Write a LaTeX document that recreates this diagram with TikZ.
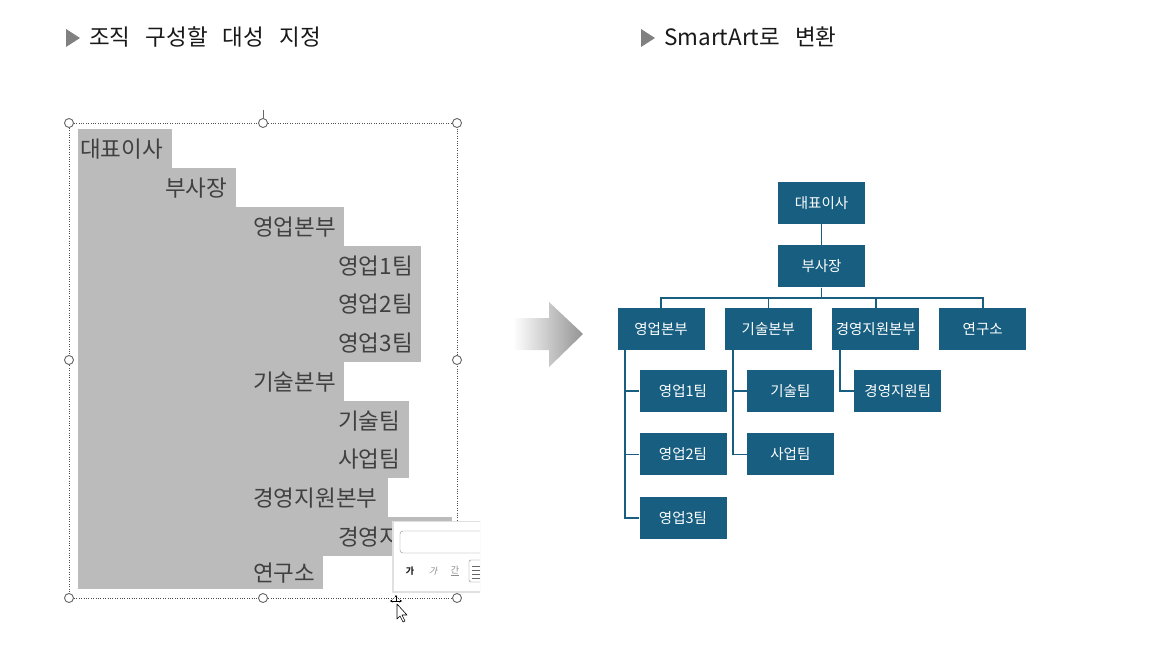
\documentclass[tikz,border=0pt]{standalone}
\usepackage{fontspec}
\setmainfont{Noto Sans CJK KR}
\newfontfamily\slantfont[FakeSlant=0.25]{Noto Sans CJK KR}
\newfontfamily\titlefont[WordSpace=3]{Noto Sans CJK KR}
\usetikzlibrary{positioning,arrows.meta,shadows}
\definecolor{orgblue}{RGB}{23,94,128}
\definecolor{selgray}{RGB}{187,187,187}
\definecolor{listtext}{RGB}{64,64,64}
\definecolor{markgray}{RGB}{128,128,128}

\begin{document}
\begin{tikzpicture}[
    x=1pt, y=-1pt,
    node distance=21pt,
    orgbox/.style={draw=none, fill=orgblue, text=white, minimum width=87pt, minimum height=42pt, inner sep=0pt, font=\fontsize{14.5}{16}\selectfont},
    link/.style={draw=orgblue, line width=1.8pt},
    rowtext/.style={anchor=west, inner sep=0pt, text=listtext, font=\fontsize{22.5}{24}\selectfont},
    title/.style={anchor=west, inner sep=0pt, text=black!90, font=\titlefont\fontsize{22.5}{25}\selectfont},
    handle/.style={draw=black!60, fill=white, line width=0.9pt}
]
  \useasboundingbox (0,0) rectangle (1151,658);

  % Titles
  \fill[markgray] (66,29) -- (80,38) -- (66,47) -- cycle;
  \node[title] (title1) at (89,37) {조직 구성할 대성 지정};
  \fill[markgray] (641,29) -- (655,38) -- (641,47) -- cycle;
  \node[title] (title2) at (664,37) {SmartArt로 변환};

  % Text pane with selected outline text
  \foreach \top/\bot/\right/\xt/\txt [count=\i] in {
      129/168/172/80/대표이사, 168/207/236/165/부사장, 207/246/344/253/영업본부,
      246/284/421/338/영업1팀, 284/323/421/338/영업2팀, 323/362/421/338/영업3팀,
      362/401/344/253/기술본부, 401/439/409/338/기술팀, 439/478/409/338/사업팀,
      478/517/388/253/경영지원본부, 517/556/452/338/경영지원팀, 556/589/323/253/연구소} {
    \fill[selgray] (78,\top) rectangle (\right,\bot);
    \node[rowtext] (row\i) at (\xt,{(\top+\bot)/2+1}) {\txt};
  }

  \draw[dotted, black!70] (69,123) rectangle (457,598);
  \draw[black!60, line width=0.8pt] (263,110) -- (263,118);
  \foreach \hx/\hy in {69/123, 263/123, 457/123, 69/360, 457/360, 69/598, 263/598, 457/598}
    \draw[handle] (\hx,\hy) circle (4.5);

  % Mini toolbar
  \begin{scope}
    \clip (380,500) rectangle (480,640);
    \fill[black!12] (392,521) rectangle (500,593);
    \fill[white] (394,522) rectangle (500,591);
    \draw[black!45, rounded corners=3pt] (400,531) rectangle (510,553);
    \node[font=\bfseries\fontsize{9}{10}\selectfont, text=black!85] (tbold) at (410,571) {가};
    \node[font=\slantfont\fontsize{9}{10}\selectfont, text=black!45] (tital) at (433,571) {가};
    \node[font=\fontsize{9}{10}\selectfont, text=black!45] (tunder) at (455,571) {\underline{간}};
    \draw[black!50, rounded corners=2pt] (469,560) rectangle (490,582);
    \foreach \ly in {566,570,574,578}
      \draw[black!60] (472,\ly) -- (480,\ly);
  \end{scope}

  % Cursor
  \draw[-{Stealth[length=2.5pt,width=3pt]}, line width=0.6pt] (396,601) -- (396,595);
  \draw[-{Stealth[length=2.5pt,width=3pt]}, line width=0.6pt] (396,601) -- (390,601);
  \draw[-{Stealth[length=2.5pt,width=3pt]}, line width=0.6pt] (396,601) -- (402,601);
  \draw[fill=white, draw=black, line width=0.6pt, line join=round]
    (397,604) -- (397,619) -- (400,616) -- (403,622) -- (405,621) -- (402,615) -- (407,615) -- cycle;

  % Convert arrow
  \shade[left color=white, right color=black!42]
    (513,318) -- (549,318) -- (549,302) -- (583,334) -- (549,367) -- (549,350) -- (513,350) -- cycle;

  % SmartArt org chart
  \node[orgbox] (ceo) at (821.5,203) {대표이사};
  \node[orgbox, below=of ceo] (vp) {부사장};

  \node[orgbox] (sales) at (661,329) {영업본부};
  \node[orgbox, right=20pt of sales] (tech) {기술본부};
  \node[orgbox, right=20pt of tech] (mgmt) {경영지원본부};
  \node[orgbox, right=19.5pt of mgmt] (lab) {연구소};

  \node[orgbox] (sales1) at (683,391) {영업1팀};
  \node[orgbox, below=of sales1] (sales2) {영업2팀};
  \node[orgbox, below=of sales2] (sales3) {영업3팀};
  \node[orgbox, right=20pt of sales1] (techteam) {기술팀};
  \node[orgbox, below=of techteam] (bizteam) {사업팀};
  \node[orgbox, right=20pt of techteam] (mgmtteam) {경영지원팀};

  \draw[link] (ceo) -- (vp);
  \foreach \dept in {sales, tech, mgmt, lab}
    \draw[link] (vp.south) -- ++(0,10) -| (\dept.north);

  \foreach \team in {sales1, sales2, sales3}
    \draw[link] ([xshift=8pt]sales.south west) |- (\team.west);
  \foreach \team in {techteam, bizteam}
    \draw[link] ([xshift=8pt]tech.south west) |- (\team.west);
  \draw[link] ([xshift=8pt]mgmt.south west) |- (mgmtteam.west);
\end{tikzpicture}
\end{document}
